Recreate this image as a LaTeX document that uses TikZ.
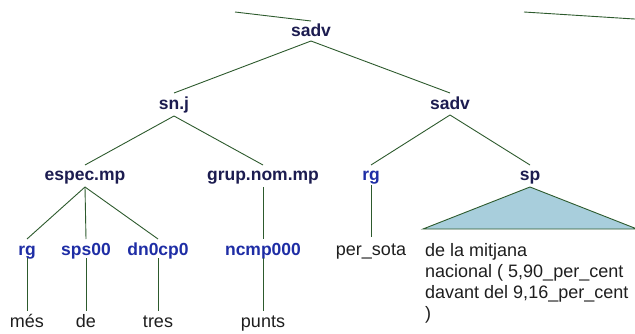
\documentclass[tikz,border=0pt]{standalone}
\usepackage{fontspec}
\setmainfont{Liberation Sans}
\definecolor{navy}{RGB}{28,28,80}
\definecolor{tagblue}{RGB}{30,45,165}
\definecolor{edgec}{RGB}{45,90,45}
\definecolor{tri}{RGB}{168,206,220}
\definecolor{wordc}{RGB}{30,30,30}
\tikzset{
  phr/.style={font=\fontsize{17.5}{21}\selectfont\bfseries, text=navy, inner sep=0pt, anchor=base},
  tagn/.style={phr, text=tagblue},
  word/.style={font=\fontsize{18}{21}\selectfont, text=wordc, inner sep=0pt, anchor=base},
  yieldline/.style={word, anchor=base west},
  edgeline/.style={draw=edgec, line width=0.9pt},
}
\begin{document}
\begin{tikzpicture}[x=1pt,y=-1pt]
\useasboundingbox (0,0) rectangle (635,334);
\clip (0,0) rectangle (635,334);
% nodes
\node[phr] (top) at (311,37) {sadv};
\node[phr] (snj) at (174,110) {sn.j};
\node[phr] (sadvr) at (450,110) {sadv};
\node[phr] (espec) at (85,181) {espec.mp};
\node[phr] (grup) at (263,181) {grup.nom.mp};
\node[tagn] (rgr) at (371,181) {rg};
\node[phr] (sp) at (530,181) {sp};
\node[tagn] (rgl) at (27,255) {rg};
\node[tagn] (sps) at (86,255) {sps00};
\node[tagn] (dn) at (158,255) {dn0cp0};
\node[tagn] (ncmp) at (263,255) {ncmp000};
\node[word] (mes) at (27,327) {més};
\node[word] (de) at (86,327) {de};
\node[word] (tres) at (158,327) {tres};
\node[word] (punts) at (263,327) {punts};
\node[word] (persota) at (371,255) {per\_sota};
\node[yieldline] (yielda) at (425,256) {de la mitjana};
\node[yieldline] (yieldb) at (425,277) {nacional ( 5,90\_per\_cent};
\node[yieldline] (yieldc) at (425,298) {davant del 9,16\_per\_cent};
\node[yieldline] (yieldd) at (425,319) {)};
% off-picture parent connectors
\coordinate (offL) at (235,12);
\coordinate (offRa) at (524,12);
\coordinate (offRb) at (650,20);
\draw[edgeline] (offL) -- ([yshift=16pt]top.base);
\draw[edgeline] (offRa) -- (offRb);
% connectors
\draw[edgeline] ([yshift=-4pt]top.base) -- ([yshift=17pt]snj.base);
\draw[edgeline] ([yshift=-4pt]top.base) -- ([yshift=17pt]sadvr.base);
\draw[edgeline] ([yshift=-6pt]snj.base) -- ([yshift=16pt]espec.base);
\draw[edgeline] ([yshift=-6pt]snj.base) -- ([yshift=16pt]grup.base);
\draw[edgeline] ([yshift=-5pt]sadvr.base) -- ([yshift=16pt]rgr.base);
\draw[edgeline] ([yshift=-5pt]sadvr.base) -- ([yshift=16pt]sp.base);
\draw[edgeline] ([yshift=-6pt]espec.base) -- ([yshift=16pt]rgl.base);
\draw[edgeline] ([yshift=-6pt]espec.base) -- ([yshift=16pt]sps.base);
\draw[edgeline] ([yshift=-6pt]espec.base) -- ([yshift=16pt]dn.base);
\draw[edgeline] ([yshift=-6pt]grup.base) -- ([yshift=16pt]ncmp.base);
\draw[edgeline] ([yshift=-4pt]rgr.base) -- ([yshift=18pt]persota.base);
\draw[edgeline] ([yshift=-3pt]rgl.base) -- ([yshift=16pt]mes.base);
\draw[edgeline] ([yshift=-3pt]sps.base) -- ([yshift=16pt]de.base);
\draw[edgeline] ([yshift=-3pt]dn.base) -- ([yshift=16pt]tres.base);
\draw[edgeline] ([yshift=-3pt]ncmp.base) -- ([yshift=16pt]punts.base);
% collapsed constituent
\coordinate (triL) at (423,229);
\coordinate (triR) at (637,229);
\draw[edgeline, fill=tri] ([yshift=-6pt]sp.base) -- (triR) -- (triL) -- cycle;
\end{tikzpicture}
\end{document}
